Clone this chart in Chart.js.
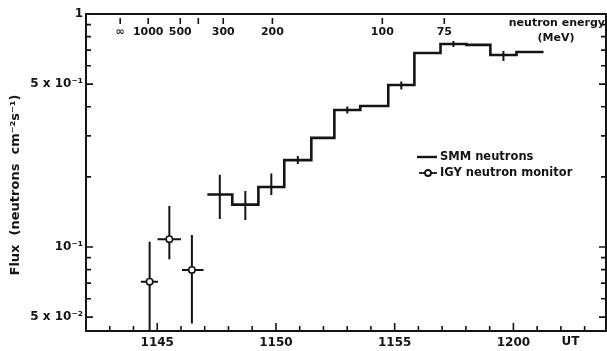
<!DOCTYPE html>
<html><head><meta charset="utf-8">
<script src="https://cdn.jsdelivr.net/npm/chart.js@4.4.1/dist/chart.umd.min.js"></script>
<style>html,body{margin:0;padding:0;background:#fff}#wrap{width:607px;height:351px;position:relative}</style>
</head><body><div id="wrap"><canvas id="c"></canvas></div>
<script>
// ---- data (time in minutes after 11:00 UT) ----
const binStarts   = [47.11, 48.16, 49.26, 50.35, 51.49, 52.46, 53.55, 54.73, 55.83, 56.93, 58.02, 59.03, 60.13];
const binEnd      = 61.27;
const smmFlux     = [0.168, 0.152, 0.181, 0.236, 0.294, 0.387, 0.403, 0.496, 0.680, 0.743, 0.737, 0.667, 0.687];
const smmErrLow   = [0.132, 0.1305, 0.167, 0.227, null, 0.374, null, 0.474, null, 0.722, null, 0.628, null];
const smmErrHigh  = [0.204, 0.174, 0.207, 0.246, null, 0.401, null, 0.513, null, 0.766, null, 0.694, null];

const igyTime     = [44.68, 45.51, 46.46];
const igyFlux     = [0.0710, 0.108, 0.0797];
const igyErrLow   = [0.040, 0.0886, 0.0470];
const igyErrHigh  = [0.1054, 0.150, 0.1126];
const igyFrom     = [44.31, 45.01, 46.04];
const igyTo       = [45.03, 46.00, 46.95];

const xTickVals   = [45, 50, 55, 60];
const xTickLabels = ['1145', '1150', '1155', '1200'];
const yTickVals   = [1, 0.5, 0.1, 0.05];
const yTickLabels = ['1', '5 x 10\u207B\u00B9', '10\u207B\u00B9', '5 x 10\u207B\u00B2'];
const energyTimes  = [43.44, 44.62, 45.97, 46.73, 47.78, 49.85, 54.48, 57.09];
const energyLabels = ['\u221E', '1000', '500', '', '300', '200', '100', '75'];

const FONT = '"DejaVu Sans", sans-serif';
const INK = '#141414';

// ---- build datasets ----
const smmPoints = binStarts.map((t, i) => ({x: t, y: smmFlux[i]}));
smmPoints.push({x: binEnd, y: smmFlux[smmFlux.length - 1]});

const smmErr = [];
binStarts.forEach((t, i) => {
  if (smmErrLow[i] == null) return;
  const end = i + 1 < binStarts.length ? binStarts[i + 1] : binEnd;
  const c = (t + end) / 2;
  smmErr.push({x: c, y: smmErrLow[i]}, {x: c, y: smmErrHigh[i]}, {x: c, y: null});
});

const igyErr = [];
igyTime.forEach((t, i) => {
  igyErr.push({x: t, y: igyErrLow[i]}, {x: t, y: igyErrHigh[i]}, {x: t, y: null});
  igyErr.push({x: igyFrom[i], y: igyFlux[i]}, {x: igyTo[i], y: igyFlux[i]}, {x: igyTo[i], y: null});
});
const igyPts = igyTime.map((t, i) => ({x: t, y: igyFlux[i]}));

const decor = {
  id: 'decor',
  afterDraw(chart) {
    const {ctx, chartArea: a, scales: {x, y}} = chart;
    ctx.save();
    ctx.strokeStyle = INK; ctx.fillStyle = INK;
    ctx.lineWidth = 2;
    ctx.strokeRect(a.left, a.top, a.right - a.left, a.bottom - a.top);
    ctx.lineWidth = 1.6;
    ctx.beginPath();
    for (let m = Math.ceil(x.min); m <= x.max; m++) {
      const px = x.getPixelForValue(m);
      const L = m % 5 === 0 ? 8 : 5;
      ctx.moveTo(px, a.bottom); ctx.lineTo(px, a.bottom - L);
    }
    for (const d of [0.01, 0.1]) {
      for (let k = 1; k <= 10; k++) {
        const v = k * d;
        if (v < y.min || v > y.max + 1e-9) continue;
        const py = y.getPixelForValue(v);
        const L = yTickVals.some(t => Math.abs(t - v) < 1e-9) ? 7 : 5;
        ctx.moveTo(a.left, py); ctx.lineTo(a.left + L, py);
        ctx.moveTo(a.right, py); ctx.lineTo(a.right - L, py);
      }
    }
    energyTimes.forEach(t => {
      const px = x.getPixelForValue(t);
      ctx.moveTo(px, a.top + 4); ctx.lineTo(px, a.top + 10);
    });
    ctx.stroke();

    // energy labels
    ctx.textBaseline = 'middle';
    ctx.textAlign = 'center';
    ctx.font = 'bold 11px ' + FONT;
    energyTimes.forEach((t, i) => {
      if (energyLabels[i]) ctx.fillText(energyLabels[i], x.getPixelForValue(t), a.top + 18);
    });
    ctx.textAlign = 'right';
    ctx.fillText('neutron energy', a.right - 1, a.top + 9);
    ctx.textAlign = 'center';
    ctx.fillText('(MeV)', 556, a.top + 24);

    // UT
    ctx.font = 'bold 12px ' + FONT;
    ctx.fillText('UT', x.getPixelForValue(62.4), a.bottom + 11);

    // legend
    ctx.font = 'bold 11.5px ' + FONT;
    ctx.textAlign = 'left';
    ctx.lineWidth = 2.4;
    ctx.beginPath();
    ctx.moveTo(417, 157); ctx.lineTo(437, 157);
    ctx.stroke();
    ctx.fillText('SMM neutrons', 440, 157);
    ctx.lineWidth = 1.8;
    ctx.beginPath();
    ctx.moveTo(419, 173); ctx.lineTo(437, 173);
    ctx.stroke();
    ctx.beginPath();
    ctx.fillStyle = '#fff';
    ctx.arc(428, 173, 3, 0, Math.PI * 2);
    ctx.fill(); ctx.stroke();
    ctx.fillStyle = INK;
    ctx.fillText('IGY neutron monitor', 440, 173);

    // y title
    ctx.save();
    ctx.translate(16, 185);
    ctx.rotate(-Math.PI / 2);
    ctx.textAlign = 'center';
    ctx.font = 'bold 13px ' + FONT;
    ctx.fillText('Flux  (neutrons  cm\u207B\u00B2s\u207B\u00B9)', 0, 0);
    ctx.restore();
    ctx.restore();
  }
};

new Chart(document.getElementById('c'), {
  type: 'scatter',
  data: {
    datasets: [
      {data: igyPts, showLine: false, pointStyle: 'circle', pointRadius: 3.2,
       pointBackgroundColor: '#fff', pointBorderColor: INK, pointBorderWidth: 1.6},
      {data: igyErr, showLine: true, spanGaps: false, borderColor: INK, borderWidth: 2, pointRadius: 0},
      {data: smmErr, showLine: true, spanGaps: false, borderColor: INK, borderWidth: 2, pointRadius: 0},
      {data: smmPoints, showLine: true, stepped: 'before', borderColor: INK, borderWidth: 2.6, pointRadius: 0}
    ]
  },
  options: {
    responsive: true, maintainAspectRatio: false, animation: false, events: [],
    devicePixelRatio: 1,
    layout: {autoPadding: false, padding: {top: 14, right: 1, left: 0, bottom: 0}},
    plugins: {legend: {display: false}, tooltip: {enabled: false}},
    scales: {
      x: {
        type: 'linear', min: 42, max: 63.9,
        grid: {display: false, drawTicks: false}, border: {display: false},
        ticks: {padding: 5, autoSkip: false, maxRotation: 0, color: INK,
                font: {family: FONT, size: 12, weight: 'bold'},
                callback: v => { const i = xTickVals.indexOf(v); return i >= 0 ? xTickLabels[i] : ''; }},
        afterBuildTicks: s => { s.ticks = xTickVals.map(v => ({value: v})); },
        afterFit: s => { s.height = 20; s.paddingLeft = 0; s.paddingRight = 0; s.paddingTop = 0; s.paddingBottom = 0; }
      },
      y: {
        type: 'logarithmic', min: 0.0436, max: 1,
        grid: {display: false, drawTicks: false}, border: {display: false},
        ticks: {padding: 3, autoSkip: false, color: INK,
                font: {family: FONT, size: 12, weight: 'bold'},
                callback: v => { const i = yTickVals.findIndex(t => Math.abs(t - v) < 1e-9); return i >= 0 ? yTickLabels[i] : ''; }},
        afterBuildTicks: s => { s.ticks = yTickVals.map(v => ({value: v})); },
        afterFit: s => { s.width = 86; s.paddingLeft = 0; s.paddingRight = 0; s.paddingTop = 0; s.paddingBottom = 0; }
      }
    }
  },
  plugins: [decor]
});
</script></body></html>
